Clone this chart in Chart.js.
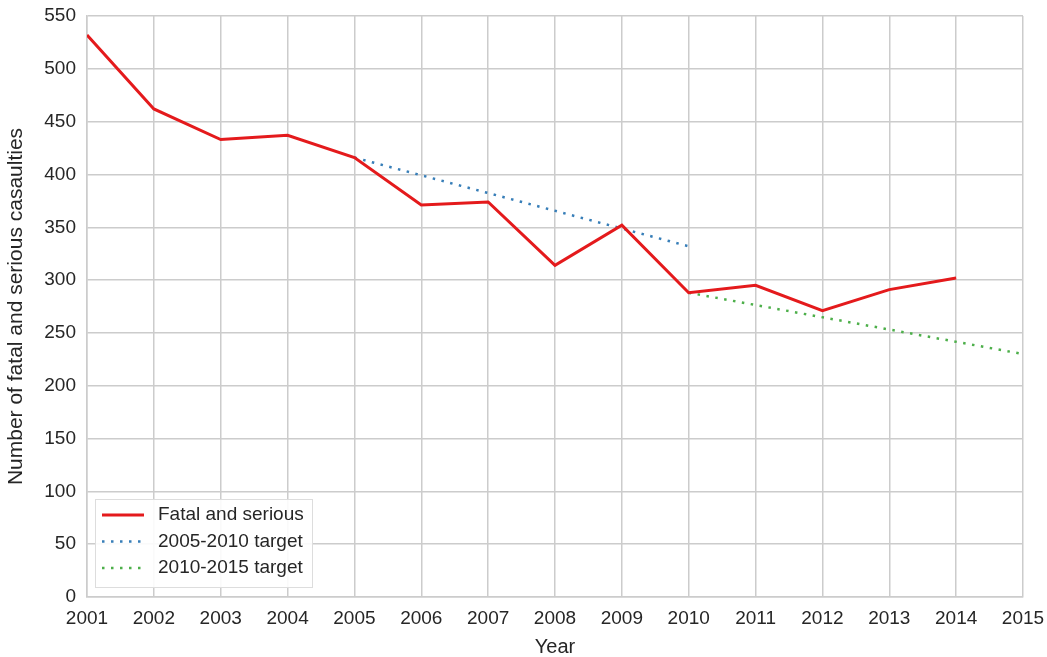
<!DOCTYPE html>
<html>
<head>
<meta charset="utf-8">
<script src="https://cdn.jsdelivr.net/npm/chart.js@4/dist/chart.umd.min.js"></script>
<style>
  html, body { margin: 0; padding: 0; background: #fff; }
  #wrap { width: 1047px; height: 657px; }
</style>
</head>
<body>
<div id="wrap"><canvas id="c"></canvas></div>
<script>
const years = [2001, 2002, 2003, 2004, 2005, 2006, 2007, 2008, 2009, 2010, 2011, 2012, 2013, 2014];
const fatalSerious = [532, 462, 433, 437, 416, 371, 374, 314, 352, 288, 295, 271, 291, 302];
const target0510Years = [2005, 2010];
const target0510 = [416, 332];
const target1015Years = [2010, 2015];
const target1015 = [288, 230];
const xTicks = [2001, 2002, 2003, 2004, 2005, 2006, 2007, 2008, 2009, 2010, 2011, 2012, 2013, 2014, 2015];
const yTicks = [0, 50, 100, 150, 200, 250, 300, 350, 400, 450, 500, 550];

const FONT = "'Liberation Sans', Arial, sans-serif";
const pts = (xs, ys) => xs.map((x, i) => ({ x, y: ys[i] }));

// legend drawn inside the plot, bottom-left, like the original
const insideLegend = {
  id: 'insideLegend',
  afterDraw(chart) {
    const { ctx, chartArea } = chart;
    const x0 = chartArea.left + 8, y0 = chartArea.bottom - 98;
    const w = 217, h = 88;
    ctx.save();
    ctx.fillStyle = 'rgba(255,255,255,0.9)';
    ctx.fillRect(x0, y0, w, h);
    ctx.strokeStyle = '#dddddd';
    ctx.lineWidth = 1;
    ctx.strokeRect(x0 + 0.5, y0 + 0.5, w, h);
    chart.data.datasets.forEach((ds, i) => {
      const y = y0 + 16 + i * 26.5;
      ctx.beginPath();
      ctx.strokeStyle = ds.borderColor;
      ctx.lineWidth = ds.borderWidth;
      ctx.setLineDash(ds.borderDash || []);
      ctx.moveTo(x0 + 7, y);
      ctx.lineTo(x0 + 49, y);
      ctx.stroke();
      ctx.setLineDash([]);
      ctx.fillStyle = '#262626';
      ctx.font = '19px ' + FONT;
      ctx.textBaseline = 'middle';
      ctx.fillText(ds.label, x0 + 63, y);
    });
    ctx.restore();
  }
};

new Chart(document.getElementById('c'), {
  type: 'line',
  data: {
    datasets: [
      {
        label: 'Fatal and serious',
        data: pts(years, fatalSerious),
        borderColor: '#e41a1c',
        borderWidth: 3,
        pointRadius: 0,
        tension: 0
      },
      {
        label: '2005-2010 target',
        data: pts(target0510Years, target0510),
        borderColor: '#377eb8',
        borderWidth: 2.5,
        borderDash: [2.5, 6.5],
        pointRadius: 0
      },
      {
        label: '2010-2015 target',
        data: pts(target1015Years, target1015),
        borderColor: '#4daf4a',
        borderWidth: 2.5,
        borderDash: [2.5, 6.5],
        pointRadius: 0
      }
    ]
  },
  options: {
    responsive: true,
    maintainAspectRatio: false,
    animation: false,
    layout: { padding: { top: 16, right: 24, left: 0, bottom: 0 } },
    plugins: {
      legend: { display: false },
      tooltip: { enabled: false }
    },
    scales: {
      x: {
        type: 'linear',
        min: 2001,
        max: 2015,
        afterBuildTicks(axis) { axis.ticks = xTicks.map(v => ({ value: v })); },
        afterFit(axis) {
          axis.height = 60;
          axis.paddingLeft = 0;
          axis.paddingRight = 0;
        },
        ticks: {
          color: '#262626',
          font: { family: FONT, size: 19 },
          padding: 10,
          maxRotation: 0,
          callback: v => String(v)
        },
        grid: { color: '#cccccc', lineWidth: 1.5, drawTicks: false },
        border: { color: '#cccccc', width: 1.5 },
        title: {
          display: true,
          text: 'Year',
          color: '#262626',
          font: { family: FONT, size: 20, lineHeight: 1 },
          padding: { top: 0, bottom: 0 }
        }
      },
      y: {
        min: 0,
        max: 550,
        afterBuildTicks(axis) { axis.ticks = yTicks.map(v => ({ value: v })); },
        afterFit(axis) {
          axis.width = 87;
          axis.paddingTop = 0;
          axis.paddingBottom = 0;
        },
        ticks: {
          color: '#262626',
          font: { family: FONT, size: 19 },
          padding: 11
        },
        grid: { color: '#cccccc', lineWidth: 1.5, drawTicks: false },
        border: { color: '#cccccc', width: 1.5 },
        title: {
          display: true,
          text: 'Number of fatal and serious casaulties',
          color: '#262626',
          font: { family: FONT, size: 21 },
          padding: { top: 4, bottom: 4 }
        }
      }
    }
  },
  plugins: [insideLegend]
});
</script>
</body>
</html>
